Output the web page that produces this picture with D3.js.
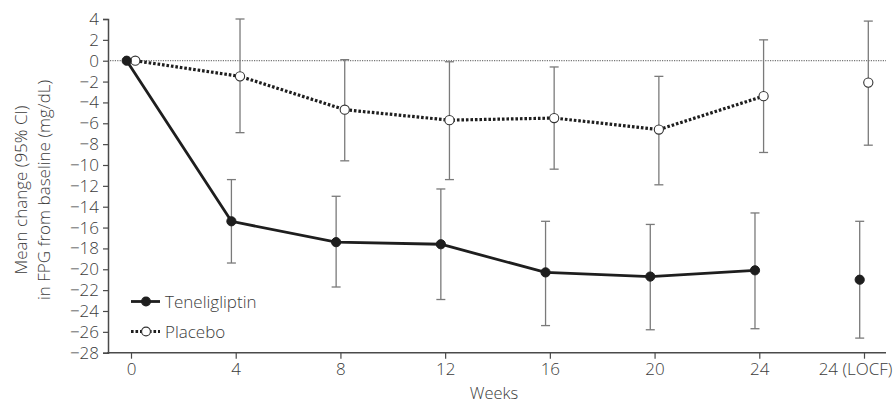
<!DOCTYPE html>
<html><head><meta charset="utf-8">
<script src="https://cdn.jsdelivr.net/npm/d3@7"></script>
<style>
body{margin:0;background:#fff;}
svg{display:block;font-family:"Open Sans",sans-serif;font-weight:300;}
</style></head>
<body><svg id="chart" width="893" height="404"></svg>
<script>
const categories = ["0","4","8","12","16","20","24","24 (LOCF)"];
const teneMean  = [0, -15.4, -17.4, -17.6, -20.3, -20.7, -20.1, -21.0];
const teneLower = [null, -19.4, -21.7, -22.9, -25.4, -25.8, -25.7, -26.6];
const teneUpper = [null, -11.4, -13.0, -12.3, -15.4, -15.7, -14.6, -15.4];
const placMean  = [0, -1.5, -4.7, -5.7, -5.5, -6.6, -3.4, -2.1];
const placLower = [null, -6.9, -9.6, -11.4, -10.4, -11.9, -8.8, -8.1];
const placUpper = [null, 4.0, 0.1, -0.1, -0.6, -1.5, 2.0, 3.8];
const yTicks = d3.range(-28, 5, 2);
const connected = 7; // first 7 points joined by line, LOCF standalone

const svg = d3.select("#chart");
const textCol = "#3c3c3c", axisCol = "#4a4a4a", errCol = "#7a7a7a";
const x = d3.scalePoint().domain(categories).range([131, 864]);
const y = d3.scaleLinear().domain([-28, 4]).range([352.7, 19]);
const xLeft = 108, xRight = 886;
const font = "'Open Sans',sans-serif";

// zero reference line
svg.append("line").attr("x1", xLeft+2).attr("x2", xRight)
  .attr("y1", y(0)).attr("y2", y(0))
  .attr("stroke", "#555").attr("stroke-width", 1).attr("stroke-dasharray", "1.2,1.2");

// y axis
const yAxis = svg.append("g").attr("transform", `translate(${xLeft},0)`)
  .call(d3.axisLeft(y).tickValues(yTicks).tickSize(5).tickPadding(4)
    .tickFormat(d => d < 0 ? "\u2212" + Math.abs(d) : d));
yAxis.select(".domain").attr("stroke", axisCol).attr("stroke-width", 1.5);
yAxis.selectAll(".tick line").attr("stroke", axisCol).attr("stroke-width", 1.2);
yAxis.selectAll(".tick text").attr("fill", textCol).style("font-size", "17px")
  .style("font-family", font).style("font-weight", 300);

// x axis
const xAxisG = svg.append("g").attr("transform", `translate(0,${y(-28)})`)
  .call(d3.axisBottom(x).tickSize(6).tickPadding(4));
xAxisG.select(".domain").remove();
xAxisG.append("line").attr("x1", xLeft - 0.75).attr("x2", xRight).attr("y1", 0).attr("y2", 0)
  .attr("stroke", axisCol).attr("stroke-width", 1.5);
xAxisG.selectAll(".tick line").attr("stroke", axisCol).attr("stroke-width", 1.2);
xAxisG.selectAll(".tick text").attr("fill", textCol).style("font-size", "17px")
  .style("font-family", font).style("font-weight", 300);
// last label sits flush with the right edge
xAxisG.selectAll(".tick text").filter(d => d === categories[categories.length - 1])
  .attr("text-anchor", "end").attr("x", 892 - x(categories[categories.length - 1]));

// axis titles
svg.append("text").attr("x", 494).attr("y", 399).attr("text-anchor", "middle")
  .attr("fill", textCol).style("font-size", "16.5px").text("Weeks");
const yl = svg.append("text").attr("transform", "translate(27,190) rotate(-90)")
  .attr("text-anchor", "middle").attr("fill", textCol).style("font-size", "17px");
yl.append("tspan").attr("x", 0).attr("dy", 0).text("Mean change (95% CI)");
yl.append("tspan").attr("x", 0).attr("dy", 23).text("in FPG from baseline (mg/dL)");

function series(mean, lower, upper, off, filled, dashed) {
  const g = svg.append("g");
  const pts = categories.map((c, i) => ({c, i, m: mean[i], lo: lower[i], hi: upper[i]}));
  const eb = pts.filter(p => p.lo !== null);
  const cx = p => x(p.c) + off;
  g.selectAll(".eb").data(eb).join("line")
    .attr("x1", cx).attr("x2", cx).attr("y1", p => y(p.hi)).attr("y2", p => y(p.lo))
    .attr("stroke", errCol).attr("stroke-width", 1.3);
  ["hi", "lo"].forEach(k => {
    g.selectAll(".cap" + k).data(eb).join("line")
      .attr("x1", p => cx(p) - 4.5).attr("x2", p => cx(p) + 4.5)
      .attr("y1", p => y(p[k])).attr("y2", p => y(p[k]))
      .attr("stroke", errCol).attr("stroke-width", 1.3);
  });
  const line = d3.line().x(cx).y(p => y(p.m));
  g.append("path").attr("d", line(pts.slice(0, connected))).attr("fill", "none")
    .attr("stroke", "#1e1e1e").attr("stroke-width", dashed ? 3.2 : 2.8)
    .attr("stroke-dasharray", dashed ? "2.6,1.9" : null);
  g.selectAll(".pt").data(pts).join("circle")
    .attr("cx", cx).attr("cy", p => y(p.m)).attr("r", 4.6)
    .attr("fill", filled ? "#1e1e1e" : "#fff")
    .attr("stroke", filled ? "#1e1e1e" : "#333").attr("stroke-width", filled ? 1 : 1.1);
}
series(placMean, placLower, placUpper, 4.3, false, true);
series(teneMean, teneLower, teneUpper, -4.3, true, false);

// legend
const legend = svg.append("g");
const items = [{name: "Teneligliptin", filled: true, dashed: false, yy: 301.5},
               {name: "Placebo", filled: false, dashed: true, yy: 331.5}];
items.forEach(it => {
  legend.append("line").attr("x1", 131).attr("x2", 160).attr("y1", it.yy).attr("y2", it.yy)
    .attr("stroke", "#1e1e1e").attr("stroke-width", it.dashed ? 3.2 : 2.8)
    .attr("stroke-dasharray", it.dashed ? "2.6,1.9" : null);
  legend.append("circle").attr("cx", 146).attr("cy", it.yy).attr("r", 4.4)
    .attr("fill", it.filled ? "#1e1e1e" : "#fff").attr("stroke", it.filled ? "#1e1e1e" : "#333").attr("stroke-width", 1.1);
  legend.append("text").attr("x", 165).attr("y", it.yy + 6).attr("fill", textCol)
    .style("font-size", "17px").text(it.name);
});
</script></body></html>
